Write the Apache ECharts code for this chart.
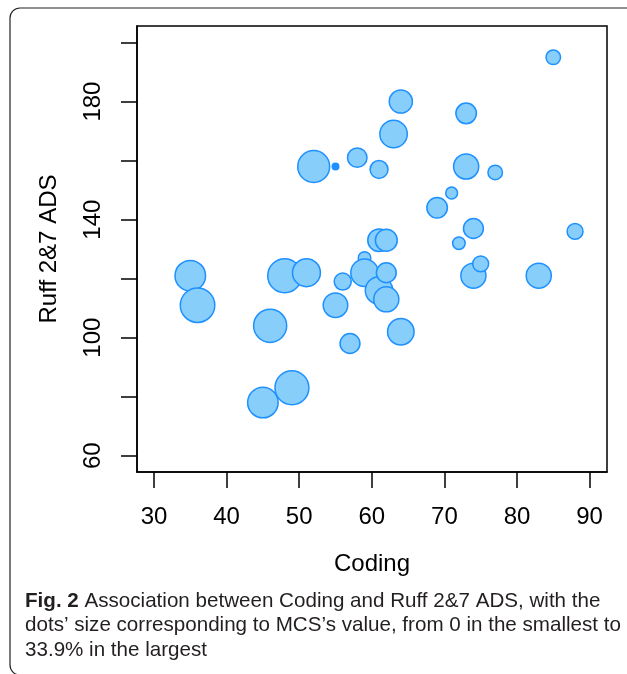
<!DOCTYPE html>
<html>
<head>
<meta charset="utf-8">
<script src="https://cdn.jsdelivr.net/npm/echarts@6/dist/echarts.min.js"></script>
<style>
  html, body { margin: 0; padding: 0; background: #fff; }
  #chart { width: 627px; height: 674px; }
</style>
</head>
<body>
<div id="chart"></div>
<script>
// Coding score, Ruff 2&7 ADS score and MCS (%) for every subject
var coding = [35, 36, 45, 46, 48, 49, 51, 52, 55, 55, 56, 57, 58, 59, 59, 61, 61, 62,
              62, 62, 61, 63, 64, 64, 69, 71, 72, 73, 73, 74, 74, 75, 77, 83, 85, 88];
var ruff = [121, 111, 78, 104, 121, 83, 122, 158, 158, 111, 119, 98, 161, 127, 122, 116, 133, 133,
            122, 113, 157, 169, 180, 102, 144, 149, 132, 158, 176, 137, 121, 125, 156, 121, 195, 136];
var mcs = [29.1, 33.9, 29.1, 32.2, 33.2, 33.2, 25.9, 30.8, 0, 21.8, 12.8, 16.2, 15.7, 7.3, 25.4, 25.4, 19.4, 18.6,
           16.2, 22.5, 13.8, 25.4, 20.1, 24.2, 17.0, 6.5, 7.3, 22.5, 17.0, 16.2, 22.5, 11.4, 9.7, 22.5, 9.7, 11.4];

var xTicks = [30, 40, 50, 60, 70, 80, 90];
var yTicks = [60, 80, 100, 120, 140, 160, 180, 200];
var yLabels = [60, 100, 140, 180];

var MCS_MAX = 33.9;

document.addEventListener("DOMContentLoaded", function () {
    var chart = echarts.init(document.getElementById('chart'));

    var points = coding.map(function (x, i) { return [x, ruff[i], mcs[i]]; });

    var axisFont = { fontFamily: 'Liberation Sans', fontSize: 24, color: '#000' };
    var blackLine = { color: '#000', width: 1.5 };
    var capFont = '20.6px "Liberation Sans", sans-serif';

    var option = {
        animation: false,
        backgroundColor: '#fff',
        grid: {
            left: 137, top: 26, width: 470, height: 446,
            show: true, borderColor: '#000', borderWidth: 1.5, backgroundColor: 'transparent'
        },
        xAxis: {
            type: 'value', min: 27.66, max: 92.4,
            splitLine: { show: false },
            axisLine: { show: true, lineStyle: blackLine },
            axisTick: { show: true, length: 16, lineStyle: blackLine, customValues: xTicks },
            axisLabel: Object.assign({ margin: 33, customValues: xTicks }, axisFont),
            name: 'Coding', nameLocation: 'middle', nameGap: 80,
            nameTextStyle: axisFont
        },
        yAxis: {
            type: 'value', min: 54.48, max: 205.6,
            splitLine: { show: false },
            axisLine: { show: true, lineStyle: blackLine },
            axisTick: { show: true, length: 16, lineStyle: blackLine, customValues: yTicks },
            axisLabel: Object.assign({ margin: 32, rotate: 90, customValues: yLabels }, axisFont),
            name: 'Ruff 2&7 ADS', nameLocation: 'middle', nameGap: 76,
            nameTextStyle: axisFont
        },
        series: [{
            type: 'scatter',
            data: points,
            symbol: 'circle',
            symbolSize: function (v) { return 6.5 + v[2] / MCS_MAX * 28; },
            itemStyle: {
                color: function (p) { return p.value[2] === 0 ? '#1E90FF' : '#87CEFA'; },
                borderColor: '#1E90FF',
                borderWidth: 1.5,
                opacity: 1
            }
        }],
        graphic: [
            {
                type: 'rect',
                shape: { x: 10, y: 8, width: 700, height: 667, r: 10 },
                style: { fill: 'none', stroke: '#222', lineWidth: 1.2 },
                silent: true
            },
            {
                type: 'text',
                x: 25, y: 589,
                style: {
                    text: '{b|Fig. 2} Association between Coding and Ruff 2&7 ADS, with the\n' +
                          'dots\u2019 size corresponding to MCS\u2019s value, from 0 in the smallest to\n' +
                          '33.9% in the largest',
                    font: capFont,
                    fill: '#231f20',
                    lineHeight: 24.5,
                    rich: {
                        b: { font: 'bold ' + capFont, fill: '#231f20', lineHeight: 24.5 }
                    }
                },
                silent: true
            }
        ]
    };

    chart.setOption(option);
});
</script>
</body>
</html>
